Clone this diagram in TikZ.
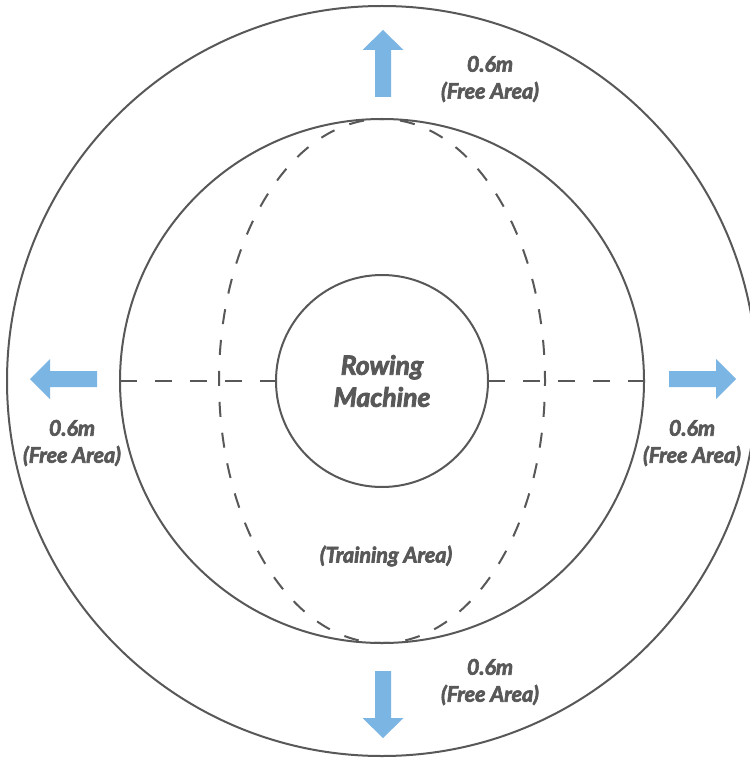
\documentclass[tikz,border=0pt]{standalone}
\usepackage{fontspec}
\setmainfont{Lato}[BoldItalicFeatures={FakeBold=3}]
\usetikzlibrary{shapes.geometric}
\definecolor{linegray}{RGB}{88,88,88}
\definecolor{textgray}{RGB}{88,88,88}
\definecolor{arrowblue}{RGB}{122,181,228}
\begin{document}
\begin{tikzpicture}[x=1pt,y=-1pt,
  ring/.style={circle, draw=linegray, line width=2pt, inner sep=0pt, outer sep=0pt},
  dashline/.style={draw=linegray, line width=2pt, dash pattern=on 16.5pt off 18.5pt},
  dashell/.style={draw=linegray, line width=2pt, dash pattern=on 15pt off 16pt, dash phase=7.5pt},
  lbl/.style={text=textgray, font=\fontsize{21.5}{27}\selectfont\bfseries\itshape, align=center},
  bigarrow/.style={fill=arrowblue, draw=none}]
\useasboundingbox (0,0) rectangle (749,759);
\fill[white] (0,0) rectangle (749,759);
\node[ring, minimum size=750pt] (outer) at (382,381) {};
\node[ring, minimum size=524pt] (inner) at (382,381) {};
\node[ring, minimum size=212pt, text=textgray, align=center, font=\fontsize{26.5}{32}\selectfont\bfseries\itshape] (machine) at (382,381) {Rowing\\Machine};
% dashed training ellipse, drawn from the bottom in two halves
\draw[dashell] (inner.south) arc[start angle=-90, end angle=90, x radius=163pt, y radius=262pt];
\draw[dashell] (inner.south) arc[start angle=-90, end angle=-270, x radius=163pt, y radius=262pt];
% dashed horizontal lines
\draw[dashline] (inner.west) -- (machine.west);
\draw[dashline] (machine.east) -- (inner.east);
% arrows
\fill[bigarrow] (375,97) -- (375,50) -- (362.5,50) -- (383,30) -- (403.5,50) -- (391,50) -- (391,97) -- cycle;
\fill[bigarrow] (375,671) -- (375,718) -- (362.5,718) -- (383,738) -- (403.5,718) -- (391,718) -- (391,671) -- cycle;
\fill[bigarrow] (97,371) -- (50,371) -- (50,359) -- (30,379) -- (50,399) -- (50,387) -- (97,387) -- cycle;
\fill[bigarrow] (669,371) -- (716,371) -- (716,359) -- (736,379) -- (716,399) -- (716,387) -- (669,387) -- cycle;
% labels
\node[lbl] (toplbl) at (490,79) {0.6m\\(Free Area)};
\node[lbl] (botlbl) at (490,682) {0.6m\\(Free Area)};
\node[lbl] (leftlbl) at (72,443) {0.6m\\(Free Area)};
\node[lbl] (rightlbl) at (692,443) {0.6m\\(Free Area)};
\node[lbl] (train) at (386,556) {(Training Area)};
\end{tikzpicture}
\end{document}
